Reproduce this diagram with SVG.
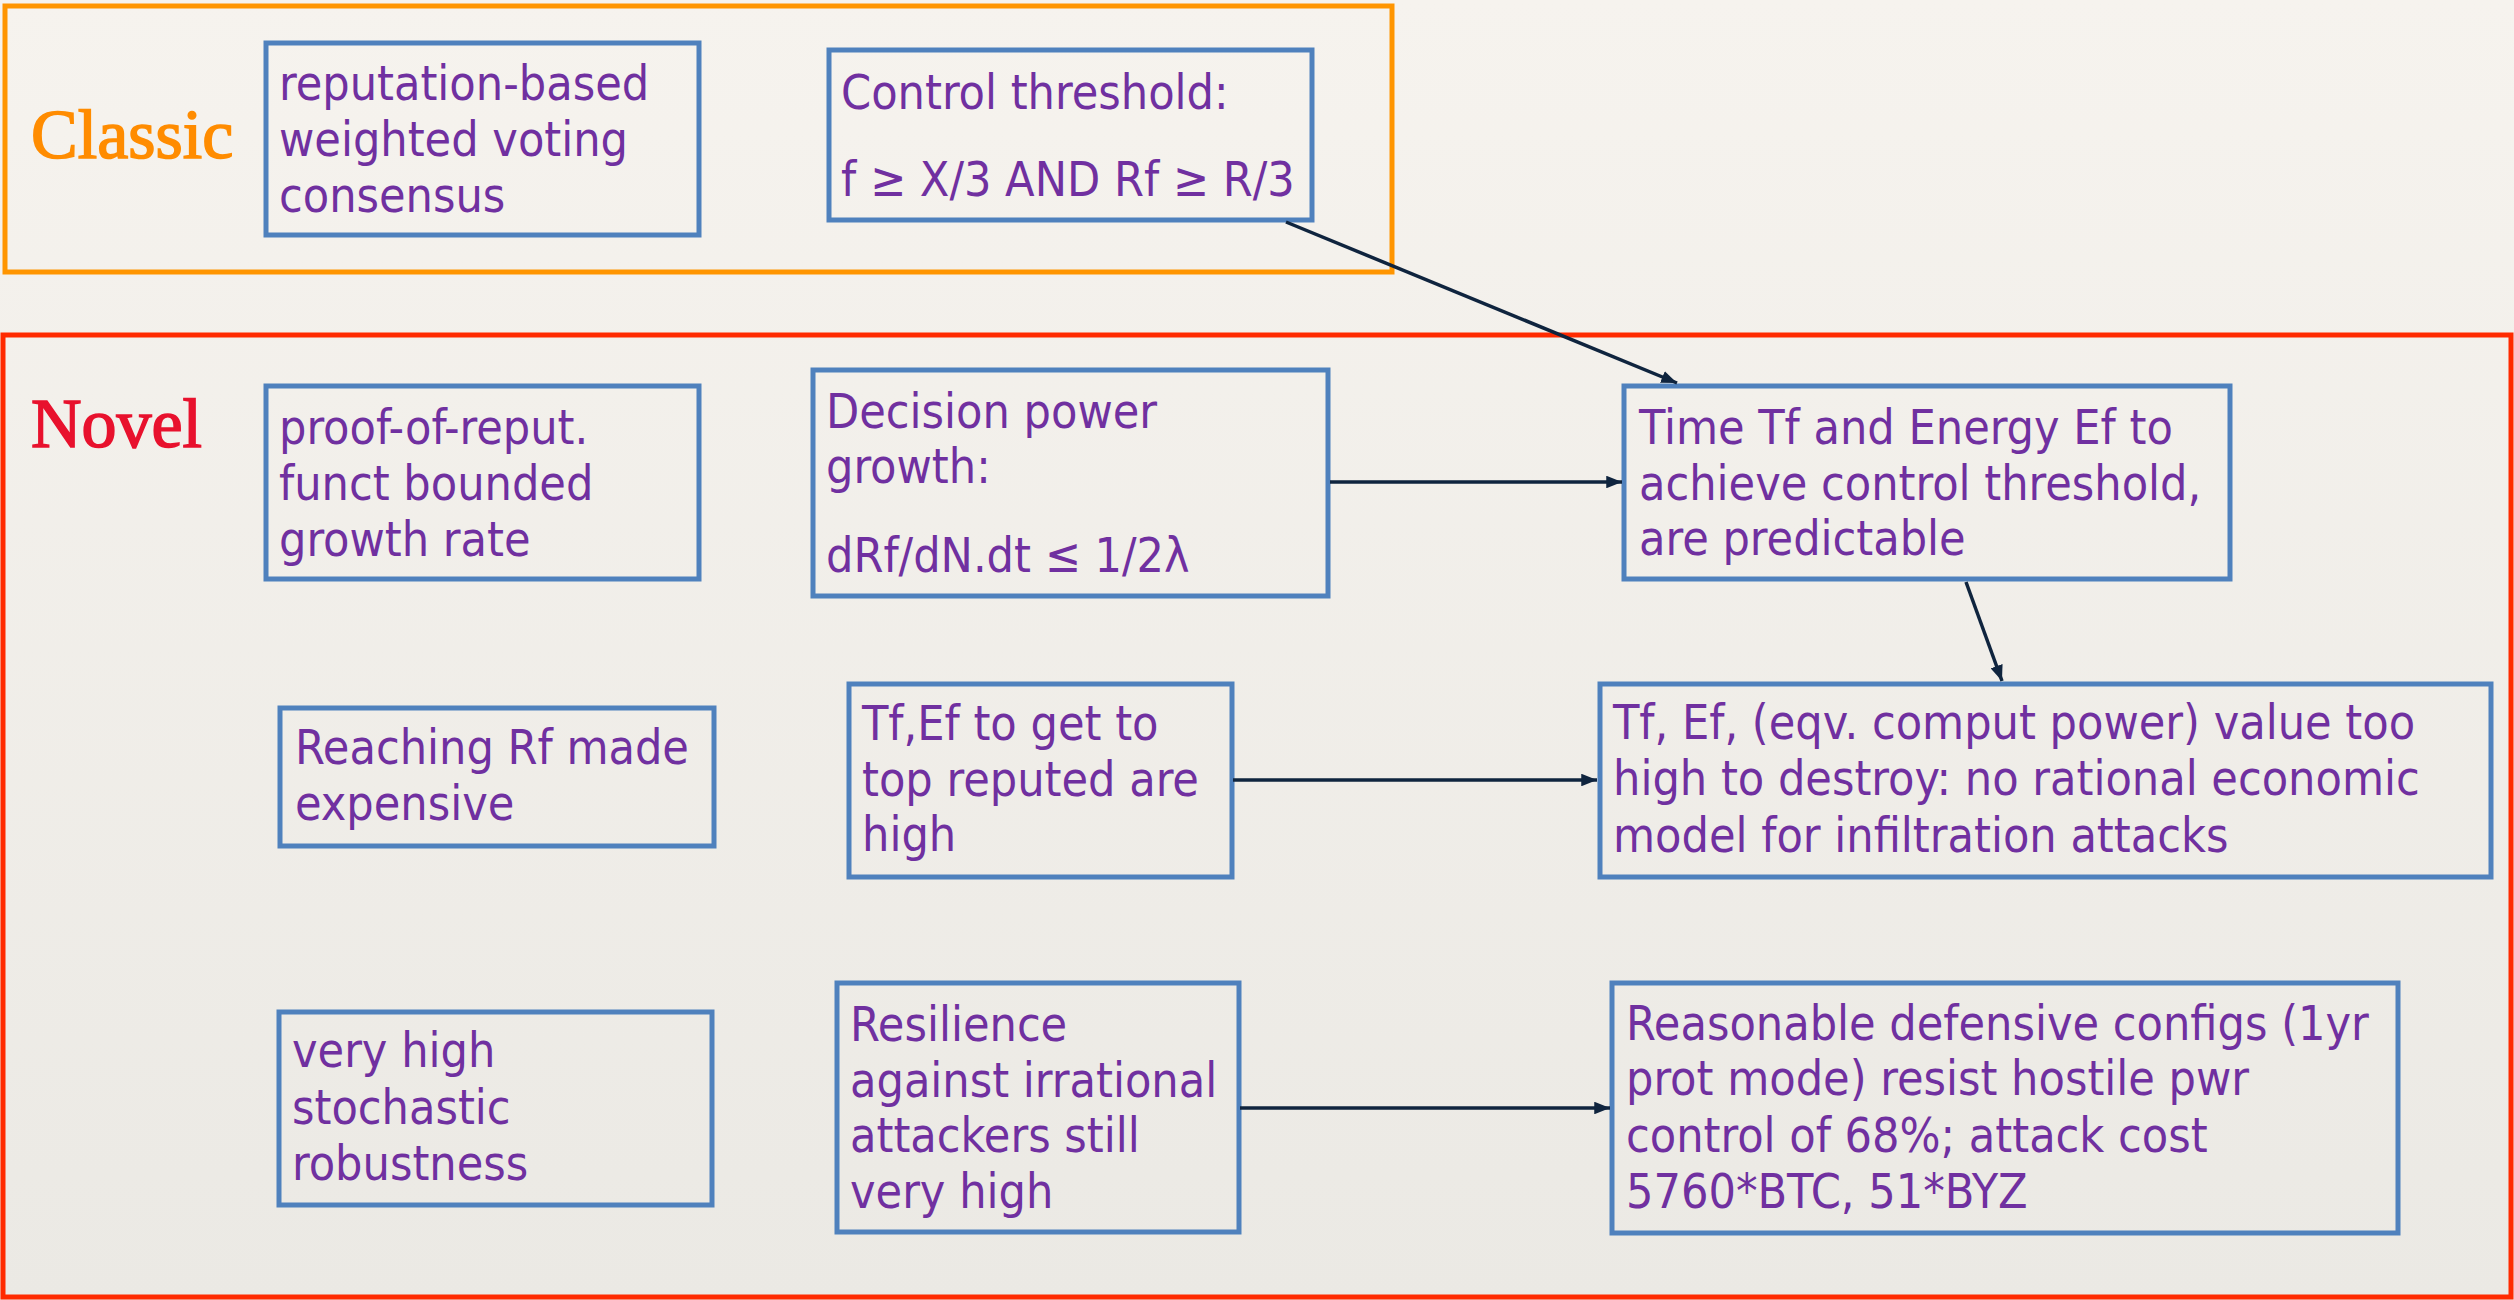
<svg xmlns="http://www.w3.org/2000/svg" width="2514" height="1300" viewBox="0 0 2514 1300">
<style>
.box{fill:none;stroke:#4F81BD;stroke-width:5}
.t{font-family:"DejaVu Sans Condensed","DejaVu Sans",sans-serif;font-stretch:condensed;font-size:48px;fill:#7030A0}
.lbl{font-family:"Liberation Serif",serif;font-size:70px;stroke-width:1.6}
.conn{stroke:#0F243E;stroke-width:3.5;fill:none;marker-end:url(#ah)}
</style>
<defs>
<linearGradient id="bg" x1="0" y1="0" x2="0" y2="1">
<stop offset="0" stop-color="#F6F3EE"/>
<stop offset="1" stop-color="#EBE9E4"/>
</linearGradient>
<marker id="ah" viewBox="0 0 10 8" refX="10" refY="4" markerWidth="4.5" markerHeight="3.6" orient="auto" markerUnits="strokeWidth">
<path d="M0,0 L10,4 L0,8 z" fill="#0F243E"/>
</marker>
</defs>
<rect x="0" y="0" width="2514" height="1300" fill="url(#bg)"/>
<g id="classic-area">
<rect x="5" y="6" width="1387" height="266" fill="none" stroke="#FF9500" stroke-width="5"/>
<text class="lbl" x="31" y="158" fill="#FF8C00" stroke="#FF8C00">Classic</text>
</g>
<g id="novel-area">
<rect x="3" y="335" width="2508" height="962" fill="none" stroke="#FF2A00" stroke-width="5"/>
<text class="lbl" x="31" y="447" fill="#E8112D" stroke="#E8112D">Novel</text>
</g>
<g id="n-reputation">
<rect class="box" x="266" y="43" width="433" height="192"/>
<text class="t"><tspan x="279" y="100">reputation-based</tspan><tspan x="279" y="156">weighted voting</tspan><tspan x="279" y="212">consensus</tspan></text>
</g>
<g id="n-control">
<rect class="box" x="829" y="50" width="483" height="170"/>
<text class="t"><tspan x="841" y="109">Control threshold:</tspan><tspan x="841" y="196">f ≥ X/3 AND Rf ≥ R/3</tspan></text>
</g>
<g id="n-proof">
<rect class="box" x="266" y="386" width="433" height="193"/>
<text class="t"><tspan x="279" y="444">proof-of-reput.</tspan><tspan x="279" y="500">funct bounded</tspan><tspan x="279" y="556">growth rate</tspan></text>
</g>
<g id="n-decision">
<rect class="box" x="813" y="370" width="515" height="226"/>
<text class="t"><tspan x="826" y="428">Decision power</tspan><tspan x="826" y="483">growth:</tspan><tspan x="826" y="572">dRf/dN.dt ≤ 1/2λ</tspan></text>
</g>
<g id="n-time">
<rect class="box" x="1624" y="386" width="606" height="193"/>
<text class="t"><tspan x="1639" y="444">Time Tf and Energy Ef to</tspan><tspan x="1639" y="500">achieve control threshold,</tspan><tspan x="1639" y="555">are predictable</tspan></text>
</g>
<g id="n-reaching">
<rect class="box" x="280" y="708" width="434" height="138"/>
<text class="t"><tspan x="295" y="764">Reaching Rf made</tspan><tspan x="295" y="820">expensive</tspan></text>
</g>
<g id="n-tfef-top">
<rect class="box" x="849" y="684" width="383" height="193"/>
<text class="t"><tspan x="862" y="740">Tf,Ef to get to</tspan><tspan x="862" y="796">top reputed are</tspan><tspan x="862" y="851">high</tspan></text>
</g>
<g id="n-value">
<rect class="box" x="1600" y="684" width="891" height="193"/>
<text class="t"><tspan x="1613" y="739">Tf, Ef, (eqv. comput power) value too</tspan><tspan x="1613" y="795">high to destroy: no rational economic</tspan><tspan x="1613" y="852">model for infiltration attacks</tspan></text>
</g>
<g id="n-stochastic">
<rect class="box" x="279" y="1012" width="433" height="193"/>
<text class="t"><tspan x="292" y="1067">very high</tspan><tspan x="292" y="1124">stochastic</tspan><tspan x="292" y="1180">robustness</tspan></text>
</g>
<g id="n-resilience">
<rect class="box" x="837" y="983" width="402" height="249"/>
<text class="t"><tspan x="850" y="1041">Resilience</tspan><tspan x="850" y="1097">against irrational</tspan><tspan x="850" y="1152">attackers still</tspan><tspan x="850" y="1208">very high</tspan></text>
</g>
<g id="n-reasonable">
<rect class="box" x="1612" y="983" width="786" height="250"/>
<text class="t"><tspan x="1626" y="1040">Reasonable defensive configs (1yr</tspan><tspan x="1626" y="1095">prot mode) resist hostile pwr</tspan><tspan x="1626" y="1152">control of 68%; attack cost</tspan><tspan x="1626" y="1208">5760*BTC, 51*BYZ</tspan></text>
</g>
<g id="connectors">
<line class="conn" x1="1286" y1="222" x2="1677" y2="383"/>
<line class="conn" x1="1330" y1="482" x2="1622" y2="482"/>
<line class="conn" x1="1966" y1="582" x2="2002" y2="681"/>
<line class="conn" x1="1233" y1="780" x2="1597" y2="780"/>
<line class="conn" x1="1240" y1="1108" x2="1610" y2="1108"/>
</g>
</svg>
